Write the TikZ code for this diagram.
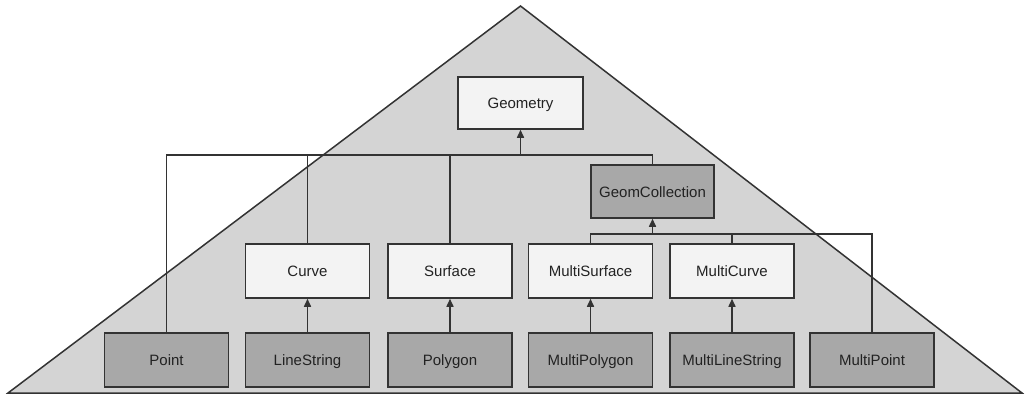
\documentclass[tikz,border=0pt]{standalone}
\usepackage{fontspec}
\setmainfont{Liberation Sans}
\usetikzlibrary{arrows.meta}
\definecolor{tri}{HTML}{D4D4D4}
\definecolor{lightbox}{HTML}{F3F3F3}
\definecolor{darkbox}{HTML}{A8A8A8}
\definecolor{ink}{HTML}{333333}
\definecolor{txt}{HTML}{222222}
\tikzset{
  cls/.style={draw=ink, line width=1.5pt, minimum width=124pt, minimum height=54pt,
    inner sep=0pt, text height=11.5pt, text depth=0pt, text=txt, font=\fontsize{15}{18}\selectfont},
  abstractcls/.style={cls, fill=lightbox},
  concretecls/.style={cls, fill=darkbox},
  link/.style={draw=ink, line width=1.5pt},
  inherit/.style={link, -{Triangle[length=8pt,width=7pt]}},
}
\begin{document}
\begin{tikzpicture}[x=1pt,y=-1pt]
\useasboundingbox (0,0) rectangle (1025,396);
\fill[white] (0,0) rectangle (1025,396);
\draw[ink, fill=tri, line width=1.5pt, line join=miter] (8,393) -- (520.5,6) -- (1022,393) -- cycle;

\node[abstractcls, minimum width=125pt, minimum height=52pt] (Geometry) at (520.5,103) {Geometry};
\node[concretecls, minimum width=123pt, minimum height=53pt] (GeomCollection) at (652.5,191.5) {GeomCollection};

\node[abstractcls] (Curve) at (307.5,271) {Curve};
\node[abstractcls] (Surface) at (450,271) {Surface};
\node[abstractcls] (MultiSurface) at (590.5,271) {MultiSurface};
\node[abstractcls] (MultiCurve) at (732,271) {MultiCurve};

\node[concretecls] (Point) at (166.5,360) {Point};
\node[concretecls] (LineString) at (307.5,360) {LineString};
\node[concretecls] (Polygon) at (450,360) {Polygon};
\node[concretecls] (MultiPolygon) at (590.5,360) {MultiPolygon};
\node[concretecls] (MultiLineString) at (732,360) {MultiLineString};
\node[concretecls] (MultiPoint) at (872,360) {MultiPoint};

\coordinate (b1) at (520.5,155);
\coordinate (b2) at (652.5,234);

\draw[link] (Point.north) |- (b1);
\draw[link] (GeomCollection.north) |- (b1);
\draw[link] (Curve.north) -- (Curve.north |- b1);
\draw[link] (Surface.north) -- (Surface.north |- b1);
\draw[inherit] (b1) -- (Geometry.south);

\draw[link] (MultiSurface.north) |- (b2);
\draw[link] (MultiPoint.north) |- (b2);
\draw[link] (MultiCurve.north) -- (MultiCurve.north |- b2);
\draw[inherit] (b2) -- (GeomCollection.south);

\draw[inherit] (LineString) -- (Curve);
\draw[inherit] (Polygon) -- (Surface);
\draw[inherit] (MultiPolygon) -- (MultiSurface);
\draw[inherit] (MultiLineString) -- (MultiCurve);
\end{tikzpicture}
\end{document}
